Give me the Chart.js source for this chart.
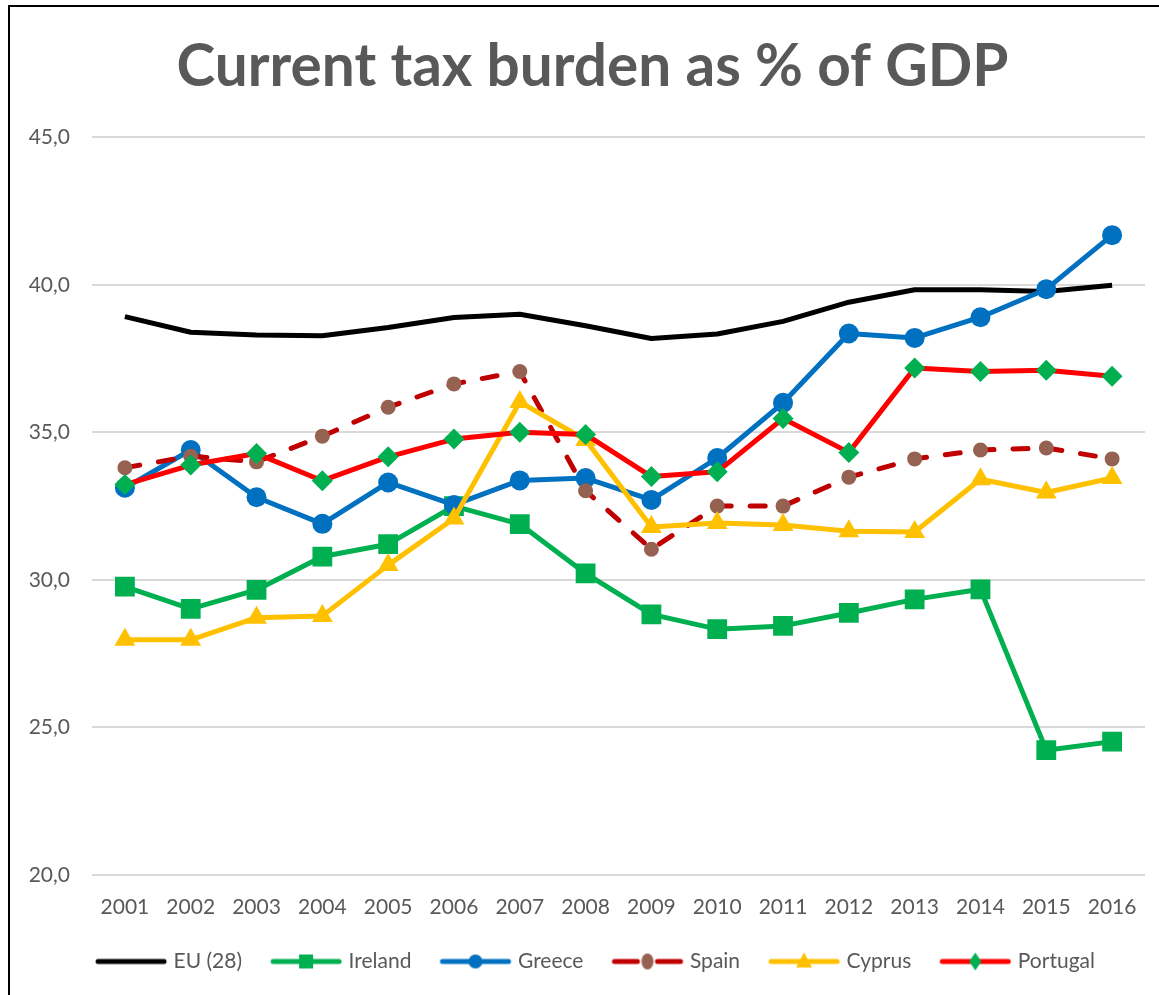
<!DOCTYPE html>
<html>
<head>
<meta charset="utf-8">
<title>Current tax burden as % of GDP</title>
<script src="https://cdn.jsdelivr.net/npm/chart.js@4/dist/chart.umd.min.js"></script>
<style>
  html, body { margin: 0; padding: 0; background: #ffffff; }
  #wrap { position: relative; width: 1159px; height: 995px; overflow: hidden; }
  #chart { position: absolute; left: 0; top: 0; }
  #frame {
    position: absolute; left: 8px; top: 5px; width: 1200px; height: 1100px;
    border-left: 2px solid #000; border-top: 2px solid #000; pointer-events: none;
  }
</style>
</head>
<body>
<div id="wrap">
  <canvas id="chart" width="1159" height="995"></canvas>
  <div id="frame"></div>
</div>
<script>
// Years on the horizontal axis
const years = ['2001', '2002', '2003', '2004', '2005', '2006', '2007', '2008',
               '2009', '2010', '2011', '2012', '2013', '2014', '2015', '2016'];

// Tax burden, % of GDP
const euValues       = [38.92, 38.39, 38.30, 38.27, 38.55, 38.89, 39.00, 38.61, 38.18, 38.33, 38.76, 39.41, 39.83, 39.83, 39.77, 39.98];
const irelandValues  = [29.77, 29.02, 29.66, 30.79, 31.21, 32.50, 31.89, 30.22, 28.83, 28.33, 28.44, 28.88, 29.34, 29.68, 24.23, 24.52];
const greeceValues   = [33.12, 34.40, 32.80, 31.90, 33.30, 32.54, 33.37, 33.45, 32.71, 34.13, 36.00, 38.35, 38.20, 38.90, 39.85, 41.68];
const spainValues    = [33.80, 34.19, 34.00, 34.87, 35.85, 36.64, 37.06, 33.02, 31.04, 32.50, 32.50, 33.48, 34.10, 34.40, 34.47, 34.10];
const cyprusValues   = [27.97, 27.97, 28.72, 28.78, 30.50, 32.08, 36.03, 34.74, 31.79, 31.93, 31.86, 31.65, 31.62, 33.41, 32.96, 33.45];
const portugalValues = [33.23, 33.89, 34.28, 33.36, 34.17, 34.77, 35.00, 34.93, 33.50, 33.66, 35.47, 34.32, 37.18, 37.06, 37.10, 36.90];

// Value axis ticks
const yTickValues = [20, 25, 30, 35, 40, 45];

const TEXT = '#595959';
const FONT = 'Lato';

// Small line-with-marker swatches for the legend
function swatch(lineColor, markerColor, marker, dashed) {
  const c = document.createElement('canvas');
  c.width = 74; c.height = 26;
  const g = c.getContext('2d');
  const cy = 13, cx = 37;
  g.strokeStyle = lineColor;
  g.lineWidth = 5;
  g.lineCap = 'round';
  g.beginPath();
  if (dashed) {
    g.moveTo(4, cy); g.lineTo(27, cy);
    g.moveTo(47, cy); g.lineTo(70, cy);
  } else {
    g.moveTo(4, cy); g.lineTo(70, cy);
  }
  g.stroke();
  g.fillStyle = markerColor;
  g.beginPath();
  if (marker === 'rect') {
    g.rect(cx - 7, cy - 7, 14, 14);
  } else if (marker === 'circle') {
    g.arc(cx, cy, 7, 0, Math.PI * 2);
  } else if (marker === 'ellipse') {
    g.ellipse(cx, cy, 6, 8, 0, 0, Math.PI * 2);
  } else if (marker === 'triangle') {
    g.moveTo(cx, cy - 9); g.lineTo(cx + 8, cy + 6); g.lineTo(cx - 8, cy + 6); g.closePath();
  } else if (marker === 'diamond') {
    g.moveTo(cx, cy - 9); g.lineTo(cx + 6, cy); g.lineTo(cx, cy + 9); g.lineTo(cx - 6, cy); g.closePath();
  }
  if (marker) g.fill();
  return c;
}

const series = [
  { label: 'EU (28)',  data: euValues,       color: '#000000', marker: null,       markerColor: '#000000', style: false,      radius: 0 },
  { label: 'Ireland',  data: irelandValues,  color: '#00B050', marker: 'rect',     markerColor: '#00B050', style: 'rect',     radius: 14 },
  { label: 'Greece',   data: greeceValues,   color: '#0070C0', marker: 'circle',   markerColor: '#0070C0', style: 'circle',   radius: 10 },
  { label: 'Spain',    data: spainValues,    color: '#C00000', marker: 'ellipse',  markerColor: '#956251', style: 'circle',   radius: 7.5, dashed: true },
  { label: 'Cyprus',   data: cyprusValues,   color: '#FFC000', marker: 'triangle', markerColor: '#FFC000', style: 'triangle', radius: 12 },
  { label: 'Portugal', data: portugalValues, color: '#FF0000', marker: 'diamond',  markerColor: '#00B050', style: 'rectRot',  radius: 10.5 }
];

const datasets = series.map((s, i) => ({
  label: s.label,
  data: s.data,
  borderColor: s.color,
  backgroundColor: s.color,
  borderWidth: 5,
  borderDash: s.dashed ? [15, 19] : [],
  borderCapStyle: s.dashed ? 'round' : 'butt',
  borderJoinStyle: 'round',
  tension: 0,
  pointStyle: s.style,
  pointRadius: s.radius,
  pointHoverRadius: s.radius,
  pointBackgroundColor: s.markerColor,
  pointBorderColor: s.markerColor,
  pointBorderWidth: 0,
  order: series.length - i,
  legendSwatch: swatch(s.color, s.markerColor, s.marker, s.dashed)
}));

// Centre the title and legend over the framed area rather than the whole canvas
const frameCentre = {
  id: 'frameCentre',
  afterLayout(chart) {
    chart.titleBlock.left = 39;
    chart.legend.left = 48;
  }
};

new Chart(document.getElementById('chart'), {
  type: 'line',
  data: { labels: years, datasets },
  plugins: [frameCentre],
  options: {
    responsive: false,
    devicePixelRatio: 1,
    animation: false,
    events: [],
    layout: { padding: { left: 0, right: 13, top: 0, bottom: 13 } },
    plugins: {
      title: {
        display: true,
        text: 'Current tax burden as % of GDP',
        color: TEXT,
        font: { family: FONT, size: 58.5, weight: 'bold' },
        padding: { top: 32, bottom: 35 }
      },
      legend: {
        position: 'bottom',
        labels: {
          color: TEXT,
          font: { family: FONT, size: 21 },
          usePointStyle: true,
          pointStyleWidth: 64,
          boxHeight: 21,
          padding: 32,
          generateLabels: chart => chart.data.datasets.map((d, i) => ({
            text: d.label,
            pointStyle: d.legendSwatch,
            fillStyle: d.borderColor,
            strokeStyle: d.borderColor,
            lineWidth: 0,
            fontColor: TEXT,
            hidden: false,
            datasetIndex: i
          }))
        }
      },
      tooltip: { enabled: false }
    },
    scales: {
      x: {
        offset: true,
        afterFit: scale => { scale.height = 44; },
        grid: { display: false, drawTicks: false },
        border: { display: false },
        ticks: { color: TEXT, font: { family: FONT, size: 21 }, padding: 20, maxRotation: 0, autoSkip: false }
      },
      y: {
        min: 20,
        max: 45,
        afterBuildTicks: scale => { scale.ticks = yTickValues.map(v => ({ value: v })); },
        afterFit: scale => { scale.width = 92; },
        grid: { color: '#D9D9D9', lineWidth: 2, drawTicks: false },
        border: { display: false },
        ticks: {
          color: TEXT,
          font: { family: FONT, size: 21 },
          padding: 22,
          callback: v => v.toFixed(1).replace('.', ',')
        }
      }
    }
  }
});
</script>
</body>
</html>
